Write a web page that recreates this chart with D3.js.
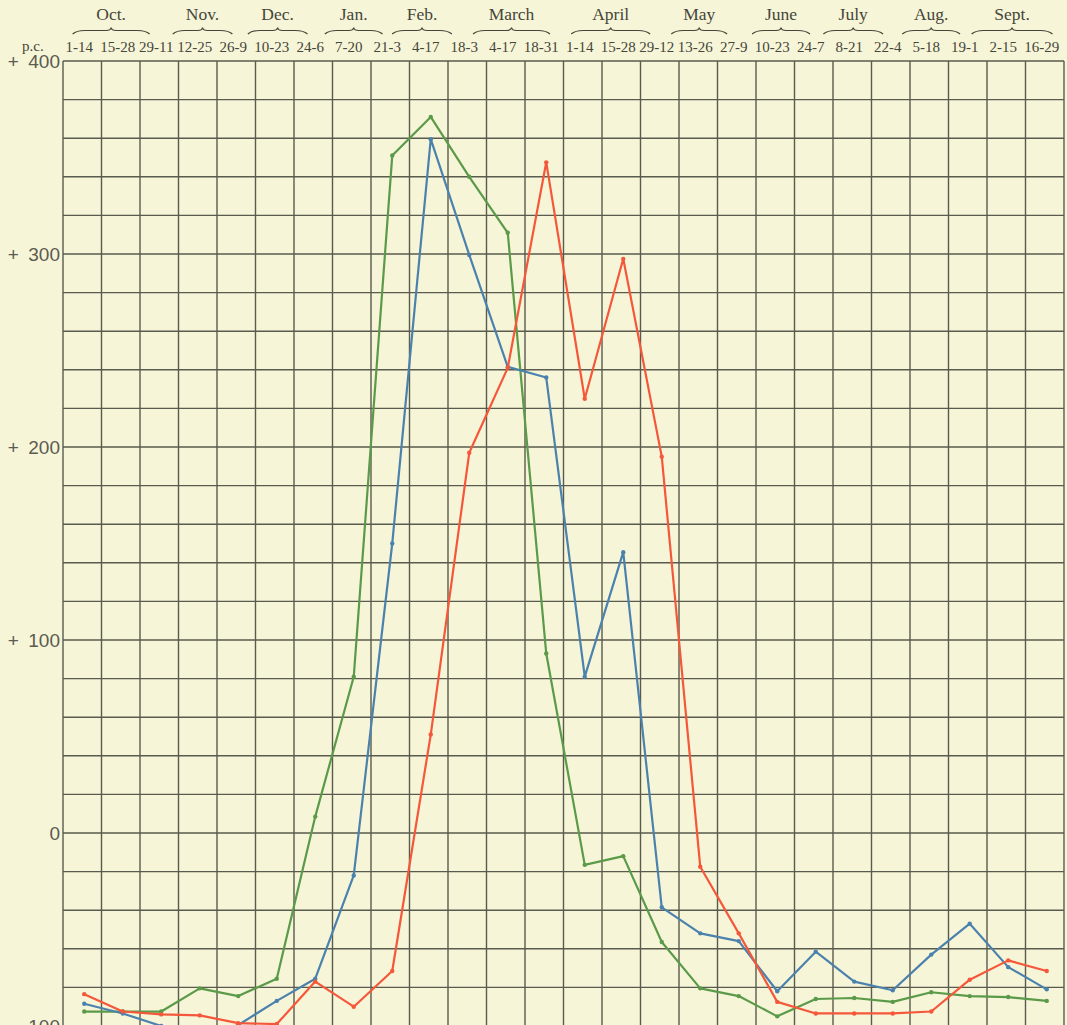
<!DOCTYPE html>
<html><head><meta charset="utf-8">
<script src="https://cdn.jsdelivr.net/npm/d3@7"></script>
<style>
body{margin:0;background:#f7f5d8;}
svg{display:block;}
</style></head>
<body><svg id="c" width="1067" height="1025"></svg>
<script>
// ---- data ----
const periods = ["1-14","15-28","29-11","12-25","26-9","10-23","24-6","7-20","21-3","4-17","18-3","4-17","18-31","1-14","15-28","29-12","13-26","27-9","10-23","24-7","8-21","22-4","5-18","19-1","2-15","16-29"];
const months = ["Oct.","Nov.","Dec.","Jan.","Feb.","March","April","May","June","July","Aug.","Sept."];
const monthStart = [0.25,2.85,4.8,6.8,8.55,10.65,13.2,15.8,17.9,19.75,21.8,23.6];
const monthEnd   = [2.25,4.4,6.35,8.3,10.1,12.65,15.25,17.25,19.4,21.3,23.3,25.7];
const yTicks = [400,300,200,100,0,-100];

const redValues   = [-83.5,-92.5,-94,-94.5,-98.5,-99,-77,-90,-71.5,51,197,241,347.5,225,297.5,195,-17.5,-52,-87.5,-93.5,-93.5,-93.5,-92.5,-76,-66,-71.5];
const blueValues  = [-88.5,-93.5,-100,-106,-99.5,-87,-75.5,-22,150,359.5,299.5,241.5,236,81,145.5,-38.5,-52,-56,-82,-61.5,-77,-81.5,-63,-47,-69.5,-81];
const greenValues = [-92.5,-92.5,-92.5,-80.5,-84.5,-75.5,8.5,81,351,371,340,311,93,-16.5,-12,-56.5,-80.5,-84.5,-95,-86,-85.5,-87.5,-82.5,-84.5,-85,-87];

// ---- layout ----
const svg = d3.select("#c");
const mLeft = 63, mRight = 1064, mTop = 61, mBottom = 1026;
const ink = "#45463a";

svg.append("rect").attr("width",1067).attr("height",1025).attr("fill","#f7f5d8");

const xc = d3.scaleLinear().domain([0, periods.length]).range([mLeft, mRight]);
const xb = d3.scaleBand().domain(d3.range(periods.length)).range([mLeft, mRight]).padding(0);
const y = d3.scaleLinear().domain([-100, 400]).range([mBottom, mTop]);
const px = i => xb(i) + xb.bandwidth()/2 + 2;

// grid
const grid = svg.append("g").attr("stroke","#585b4d").attr("stroke-width",1.4);
grid.selectAll("line.h").data(d3.range(-100, 401, 20)).join("line").attr("class","h")
  .attr("x1", mLeft).attr("x2", mRight).attr("y1", d=>y(d)).attr("y2", d=>y(d));
grid.selectAll("line.v").data(d3.range(0, periods.length+1)).join("line").attr("class","v")
  .attr("x1", d=>xc(d)).attr("x2", d=>xc(d)).attr("y1", mTop).attr("y2", mBottom);

// y axis labels
const yAxis = d3.axisLeft(y).tickValues(yTicks).tickSize(0).tickPadding(2)
  .tickFormat(d => d > 0 ? "+\u2002" + d : d < 0 ? "-\u2002" + (-d) : "0");
const gy = svg.append("g").attr("transform", `translate(${mLeft-1},0)`).call(yAxis);
gy.select(".domain").remove();
gy.selectAll("text").attr("font-family","'Liberation Sans', Arial, sans-serif")
  .attr("font-size",19).attr("fill","#5b5b50");

// period labels (top axis)
const xAxis = d3.axisTop(xb).tickSize(0).tickPadding(0).tickFormat(i => periods[i]);
const gx = svg.append("g").attr("transform","translate(-3,52)").call(xAxis);
gx.select(".domain").remove();
gx.selectAll("text").attr("font-family","'Liberation Serif', 'Times New Roman', serif")
  .attr("font-size",15).attr("fill",ink);

svg.append("text").attr("x",22).attr("y",51).text("p.c.")
  .attr("font-family","'Liberation Serif', serif").attr("font-size",15).attr("fill",ink);

// month labels + braces
const mg = svg.append("g");
months.forEach((m, i) => {
  const a = xc(monthStart[i]), b = xc(monthEnd[i]), c = (a + b) / 2;
  mg.append("text").attr("x", c).attr("y", 20).attr("text-anchor","middle")
    .attr("font-family","'Liberation Serif', serif").attr("font-size",17.5).attr("fill",ink).text(m);
  const p = d3.path();
  p.moveTo(a, 34);
  p.quadraticCurveTo(a + 4, 30.5, a + 12, 30.5);
  p.lineTo(c - 5, 30.5);
  p.quadraticCurveTo(c - 0.5, 30.5, c, 27.5);
  p.quadraticCurveTo(c + 0.5, 30.5, c + 5, 30.5);
  p.lineTo(b - 12, 30.5);
  p.quadraticCurveTo(b - 4, 30.5, b, 34);
  mg.append("path").attr("d", p.toString()).attr("fill","none")
    .attr("stroke", ink).attr("stroke-width",1.2);
});

// series
const series = [
  {name:"green", color:"#5a9a49", values: greenValues},
  {name:"blue",  color:"#4b82ad", values: blueValues},
  {name:"red",   color:"#f5573a", values: redValues}
];
const line = d3.line().x((d,i)=>px(i)).y(d=>y(d));
svg.append("clipPath").attr("id","clip").append("rect")
  .attr("x", mLeft).attr("y", mTop - 5).attr("width", mRight - mLeft + 5).attr("height", mBottom - mTop + 5);
const sg = svg.append("g").attr("clip-path","url(#clip)");
series.forEach(s => {
  sg.append("path").datum(s.values).attr("d", line).attr("fill","none")
    .attr("stroke", s.color).attr("stroke-width", 2.2).attr("stroke-linejoin","round");
  sg.selectAll("circle." + s.name).data(s.values).join("circle")
    .attr("class", s.name).attr("cx",(d,i)=>px(i)).attr("cy", d=>y(d)).attr("r",2.2).attr("fill", s.color);
});
</script></body></html>
